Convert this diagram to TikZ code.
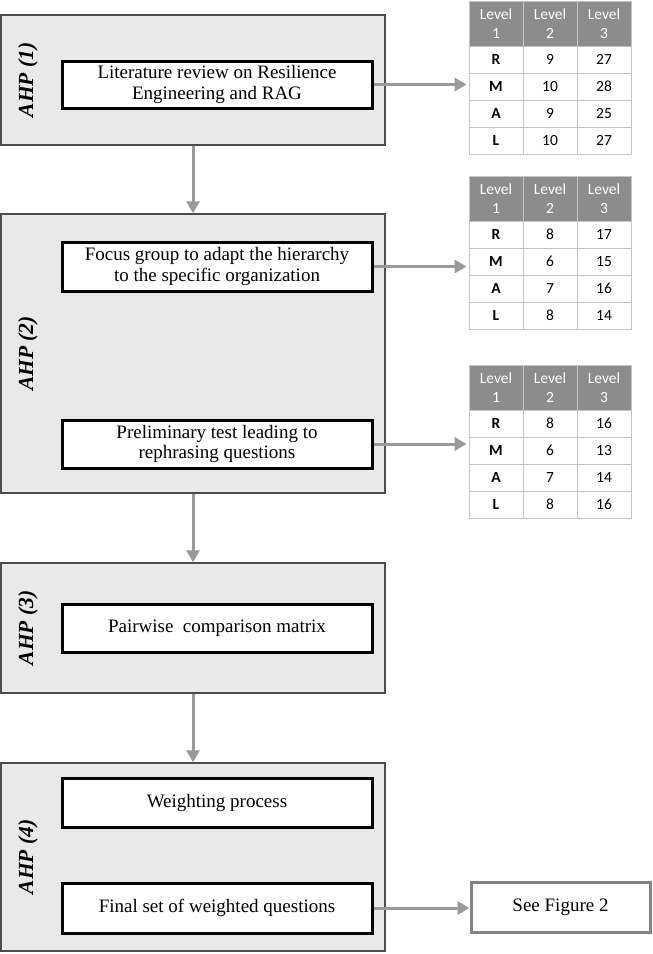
\documentclass[tikz,border=0pt]{standalone}
\usepackage{fontspec}
\setmainfont{Liberation Serif}
\newfontfamily\calfont{Carlito}
\usetikzlibrary{arrows.meta}
\definecolor{panelfill}{HTML}{E9E9E9}
\definecolor{panelline}{HTML}{4D4D4D}
\definecolor{arrowgray}{HTML}{9A9A9A}
\definecolor{headgray}{HTML}{8C8C8C}
\definecolor{cellline}{HTML}{C4C4C4}
\tikzset{
  panel/.style={draw=panelline, line width=1.5pt, fill=panelfill, minimum width=384pt, inner sep=0pt},
  stepbox/.style={draw=black, line width=3pt, fill=white, minimum width=310pt, inner sep=0pt, align=center, font=\fontsize{19}{20.5}\selectfont},
  ahplabel/.style={rotate=90, font=\fontsize{21.5}{24}\selectfont\bfseries\itshape},
  flow/.style={draw=arrowgray, line width=3pt, -{Triangle[length=12pt,width=13pt]}},
  hcell/.style={draw=cellline, line width=0.8pt, fill=headgray, text=white, minimum width=54pt, minimum height=45pt, inner sep=0pt, align=center, font=\calfont\fontsize{15.5}{18.5}\selectfont},
  cell/.style={draw=cellline, line width=0.8pt, fill=white, minimum width=54pt, minimum height=27pt, inner sep=0pt, font=\calfont\fontsize{15.5}{18}\selectfont},
  figbox/.style={draw=arrowgray!85!black, line width=3pt, fill=white, minimum width=179pt, minimum height=50pt, inner sep=0pt, font=\fontsize{19}{20.5}\selectfont}
}
\newcommand\ahptable[3]{%
  \node[hcell] (#1h1) at (496,{#2+22.5}) {Level\\1};
  \node[hcell] (#1h2) at (550,{#2+22.5}) {Level\\2};
  \node[hcell] (#1h3) at (604,{#2+22.5}) {Level\\3};
  \foreach \l/\a/\b [count=\i] in {#3} {
    \node[cell, font=\calfont\fontsize{15.5}{18}\selectfont\bfseries] (#1\l) at (496,{#2+45+13.5+(\i-1)*27}) {\l};
    \node[cell] (#1\l2) at (550,{#2+45+13.5+(\i-1)*27}) {\a};
    \node[cell] (#1\l3) at (604,{#2+45+13.5+(\i-1)*27}) {\b};
  }
}
\begin{document}
\begin{tikzpicture}[x=1pt,y=-1pt]
\useasboundingbox (0,0) rectangle (653,954);
% panels
\node[panel, minimum height=130pt] (p1) at (193,80) {};
\node[panel, minimum height=279pt] (p2) at (193,353.5) {};
\node[panel, minimum height=130pt] (p3) at (193,628) {};
\node[panel, minimum height=188pt] (p4) at (193,857) {};
\node[ahplabel] (l1) at (28,80) {AHP (1)};
\node[ahplabel] (l2) at (28,353.5) {AHP (2)};
\node[ahplabel] (l3) at (28,628) {AHP (3)};
\node[ahplabel] (l4) at (28,857) {AHP (4)};
% steps
\node[stepbox, minimum height=47pt] (b1) at (217,84.5) {Literature review on Resilience\\Engineering and RAG};
\node[stepbox, minimum height=49pt] (b2) at (217,266.5) {Focus group to adapt the hierarchy\\to the specific organization};
\node[stepbox, minimum height=48pt] (b3) at (217,444) {Preliminary test leading to\\rephrasing questions};
\node[stepbox, minimum height=48pt] (b4) at (217,628) {Pairwise\ \ comparison matrix};
\node[stepbox, minimum height=49pt] (b5) at (217,802.5) {Weighting process};
\node[stepbox, minimum height=50pt] (b6) at (217,908) {Final set of weighted questions};
\node[figbox] (fig) at (560.5,907) {See Figure 2};
% tables
\ahptable{ta}{1}{R/9/27, M/10/28, A/9/25, L/10/27}
\ahptable{tb}{176}{R/8/17, M/6/15, A/7/16, L/8/14}
\ahptable{tc}{365}{R/8/16, M/6/13, A/7/14, L/8/16}
% connectors
\draw[flow] (p1.south) -- (p2.north);
\draw[flow] (p2.south) -- (p3.north);
\draw[flow] (p3.south) -- (p4.north);
\draw[flow] (b1.east) -- ([xshift=-2pt]b1.east -| taM.west);
\draw[flow] (b2.east) -- ([xshift=-2pt]b2.east -| tbM.west);
\draw[flow] (b3.east) -- ([xshift=-2pt]b3.east -| tcM.west);
\draw[flow] (b6.east) -- (b6.east -| fig.west);
\end{tikzpicture}
\end{document}
